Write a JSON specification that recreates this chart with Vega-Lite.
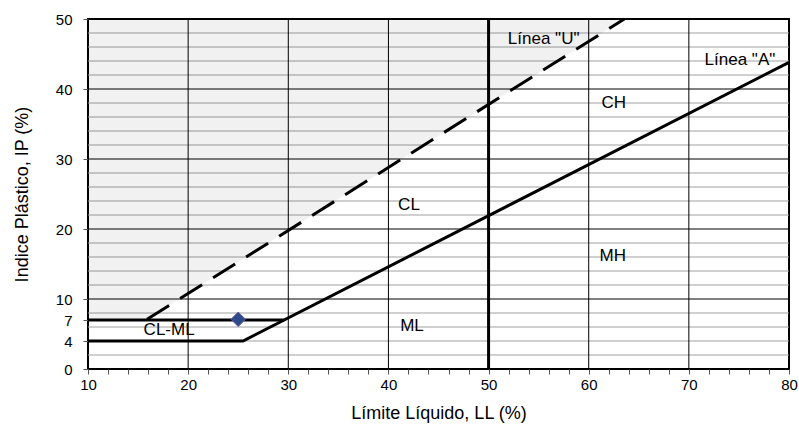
{
  "$schema": "https://vega.github.io/schema/vega-lite/v6.json",
  "width": 701,
  "height": 350,
  "autosize": "none",
  "padding": {"left": 88, "top": 19, "right": 10, "bottom": 59},
  "background": "white",
  "config": {
    "view": {"stroke": "#000", "strokeWidth": 2},
    "font": "Liberation Sans",
    "axis": {"labelFont": "Liberation Sans", "titleFont": "Liberation Sans", "labelColor": "#000", "titleColor": "#000", "titleFontWeight": "normal", "domain": false, "grid": false}
  },
  "datasets": {
    "shade": [
      {"LL": 10, "IP": 7, "top": 50},
      {"LL": 15.9, "IP": 7.1, "top": 50},
      {"LL": 63.56, "IP": 50, "top": 50}
    ],
    "hgrid": [
      {"IP": 2, "major": "no"}, {"IP": 4, "major": "no"}, {"IP": 6, "major": "no"}, {"IP": 8, "major": "no"},
      {"IP": 12, "major": "no"}, {"IP": 14, "major": "no"}, {"IP": 16, "major": "no"}, {"IP": 18, "major": "no"},
      {"IP": 22, "major": "no"}, {"IP": 24, "major": "no"}, {"IP": 26, "major": "no"}, {"IP": 28, "major": "no"},
      {"IP": 32, "major": "no"}, {"IP": 34, "major": "no"}, {"IP": 36, "major": "no"}, {"IP": 38, "major": "no"},
      {"IP": 42, "major": "no"}, {"IP": 44, "major": "no"}, {"IP": 46, "major": "no"}, {"IP": 48, "major": "no"},
      {"IP": 10, "major": "yes"}, {"IP": 20, "major": "yes"}, {"IP": 30, "major": "yes"}, {"IP": 40, "major": "yes"}
    ],
    "vgrid": [
      {"LL": 20}, {"LL": 30}, {"LL": 40}, {"LL": 50}, {"LL": 60}, {"LL": 70}
    ],
    "lines": [
      {"line": "A", "ord": 1, "LL": 10, "IP": 4},
      {"line": "A", "ord": 2, "LL": 25.48, "IP": 4},
      {"line": "A", "ord": 3, "LL": 80, "IP": 43.8},
      {"line": "h7", "ord": 1, "LL": 10, "IP": 7},
      {"line": "h7", "ord": 2, "LL": 29.6, "IP": 7},
      {"line": "LL50", "ord": 1, "LL": 50, "IP": 0},
      {"line": "LL50", "ord": 2, "LL": 50, "IP": 50}
    ],
    "uline": [
      {"LL": 15.9, "IP": 7.1},
      {"LL": 63.56, "IP": 50}
    ],
    "labels": [
      {"text": "CL", "LL": 42.05, "IP": 23.4},
      {"text": "ML", "LL": 42.35, "IP": 6.1},
      {"text": "CL-ML", "LL": 18.1, "IP": 5.6},
      {"text": "CH", "LL": 62.5, "IP": 38.0},
      {"text": "MH", "LL": 62.4, "IP": 16.1},
      {"text": "Línea \"U\"", "LL": 55.5, "IP": 47.1},
      {"text": "Línea \"A\"", "LL": 75.1, "IP": 44.1}
    ],
    "sample": [
      {"LL": 25, "IP": 7.1}
    ]
  },
  "layer": [
    {
      "data": {"name": "hgrid"},
      "mark": {"type": "rule", "strokeWidth": 1},
      "encoding": {
        "y": {
          "field": "IP", "type": "quantitative",
          "scale": {"domain": [0, 50], "nice": false, "zero": false},
          "axis": {
            "title": "Indice Plástico, IP (%)",
            "titleFontSize": 18, "titlePadding": 24,
            "labelFontSize": 15, "labelPadding": 11,
            "values": [0, 4, 7, 10, 20, 30, 40, 50],
            "format": "d",
            "tickCount": 60,
            "labelOverlap": false, "labelFlush": false,
            "tickSize": 5, "tickColor": "#555"
          }
        },
        "color": {"field": "major", "type": "nominal", "scale": {"domain": ["no", "yes"], "range": ["#a0a0a0", "#000000"]}, "legend": null}
      }
    },
    {
      "data": {"name": "vgrid"},
      "mark": {"type": "rule", "strokeWidth": 1, "color": "#000"},
      "encoding": {
        "x": {
          "field": "LL", "type": "quantitative",
          "scale": {"domain": [10, 80], "nice": false, "zero": false},
          "axis": {
            "title": "Límite Líquido, LL (%)",
            "titleFontSize": 18, "titlePadding": 12,
            "labelFontSize": 15, "labelPadding": 3,
            "values": [10,12,14,16,18,20,22,24,26,28,30,32,34,36,38,40,42,44,46,48,50,52,54,56,58,60,62,64,66,68,70,72,74,76,78,80],
            "format": "d",
            "tickCount": 100,
            "labelExpr": "datum.value % 10 === 0 ? datum.label : ''",
            "labelOverlap": false, "labelFlush": false,
            "tickSize": 5, "tickColor": "#555"
          }
        }
      }
    },
    {
      "data": {"name": "shade"},
      "mark": {"type": "area", "fill": "#000", "fillOpacity": 0.055},
      "encoding": {
        "x": {"field": "LL", "type": "quantitative"},
        "y": {"field": "IP", "type": "quantitative"},
        "y2": {"field": "top"}
      }
    },
    {
      "data": {"name": "lines"},
      "mark": {"type": "line", "color": "#000", "strokeWidth": 3, "strokeCap": "butt"},
      "encoding": {
        "x": {"field": "LL", "type": "quantitative"},
        "y": {"field": "IP", "type": "quantitative"},
        "detail": {"field": "line"},
        "order": {"field": "ord"}
      }
    },
    {
      "data": {"name": "uline"},
      "mark": {"type": "line", "color": "#000", "strokeWidth": 3, "strokeDash": [26, 13], "strokeCap": "butt"},
      "encoding": {
        "x": {"field": "LL", "type": "quantitative"},
        "y": {"field": "IP", "type": "quantitative"}
      }
    },
    {
      "data": {"name": "labels"},
      "mark": {"type": "text", "font": "Liberation Sans", "fontSize": 17, "color": "#000", "align": "center", "baseline": "middle"},
      "encoding": {
        "x": {"field": "LL", "type": "quantitative"},
        "y": {"field": "IP", "type": "quantitative"},
        "text": {"field": "text"}
      }
    },
    {
      "data": {"name": "sample"},
      "mark": {"type": "point", "shape": "diamond", "size": 210, "filled": true, "fill": "#2d4b8a", "stroke": "#6b5a9c", "strokeWidth": 1, "opacity": 1},
      "encoding": {
        "x": {"field": "LL", "type": "quantitative"},
        "y": {"field": "IP", "type": "quantitative"}
      }
    }
  ]
}
